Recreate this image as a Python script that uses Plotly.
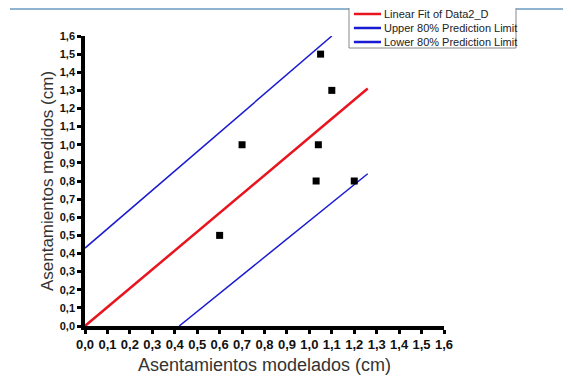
import plotly.graph_objects as go

# Data
modelados = [0.60, 0.70, 1.05, 1.10, 1.04, 1.03, 1.20]
medidos = [0.50, 1.00, 1.50, 1.30, 1.00, 0.80, 0.80]

fit_x = [0.0, 1.26]
fit_y = [0.0, 1.31]
upper_x = [0.0, 1.10]
upper_y = [0.43, 1.60]
lower_x = [0.42, 1.26]
lower_y = [0.0, 0.84]

series_names = ["Linear Fit of Data2_D", "Upper 80% Prediction Limit", "Lower 80% Prediction Limit"]
series_colors = ["#e8141e", "#1a1ad2", "#1a1ad2"]
series_widths = [2.5, 1.5, 1.5]

tick_vals = [i / 10 for i in range(17)]

fig = go.Figure()
for xs, ys, nm, col, w in zip([fit_x, upper_x, lower_x], [fit_y, upper_y, lower_y],
                              series_names, series_colors, series_widths):
    fig.add_trace(go.Scatter(x=xs, y=ys, mode="lines", name=nm,
                             line=dict(color=col, width=w)))
fig.add_trace(go.Scatter(x=modelados, y=medidos, mode="markers",
                         marker=dict(symbol="square", size=7, color="black"),
                         name="Data2_D"))

axis_common = dict(
    range=[0, 1.6], tickvals=tick_vals, tickformat=".1f",
    showgrid=False, zeroline=False,
    showline=True, linecolor="black", linewidth=3.5,
    ticks="outside", ticklen=4, tickwidth=3, tickcolor="black",
)

# Manual legend (box, swatches, labels) in paper coordinates
shapes = [
    dict(type="rect", xref="paper", yref="paper",
         x0=-0.2089, x1=1.354, y0=1.0897, y1=1.1034,
         fillcolor="#8fb4d0", line=dict(width=0), layer="below"),
    dict(type="rect", xref="paper", yref="paper",
         x0=0.7354, x1=1.2006, y0=0.9586, y1=1.1069,
         fillcolor="white", line=dict(color="#888", width=1)),
]
annotations = []
legend_y = [1.0759, 1.0276, 0.9793]
for ly, nm, col in zip(legend_y, series_names, series_colors):
    shapes.append(dict(type="line", xref="paper", yref="paper",
                       x0=0.749, x1=0.8245, y0=ly, y1=ly,
                       line=dict(color=col, width=2.5)))
    annotations.append(dict(text=nm, xref="paper", yref="paper",
                            x=0.8265, y=ly, xanchor="left", yanchor="middle",
                            showarrow=False,
                            font=dict(family="Arial", size=11, color="#222")))

fig.update_layout(
    width=571, height=381,
    margin=dict(l=77, r=135, t=28, b=63, autoexpand=False),
    paper_bgcolor="white", plot_bgcolor="white",
    separators=", ",
    showlegend=False,
    xaxis=dict(**axis_common,
               tickfont=dict(family="Arial", size=13, color="#111", weight="bold"),
               title=dict(text="Asentamientos modelados (cm)", standoff=8,
                          font=dict(family="Arial", size=18, color="#333"))),
    yaxis=dict(**axis_common,
               tickfont=dict(family="Arial", size=11, color="#111", weight="bold"),
               title=dict(text="Asentamientos medidos (cm)", standoff=3,
                          font=dict(family="Arial", size=17, color="#333"))),
    shapes=shapes,
    annotations=annotations,
)

fig.write_html("out.html")
